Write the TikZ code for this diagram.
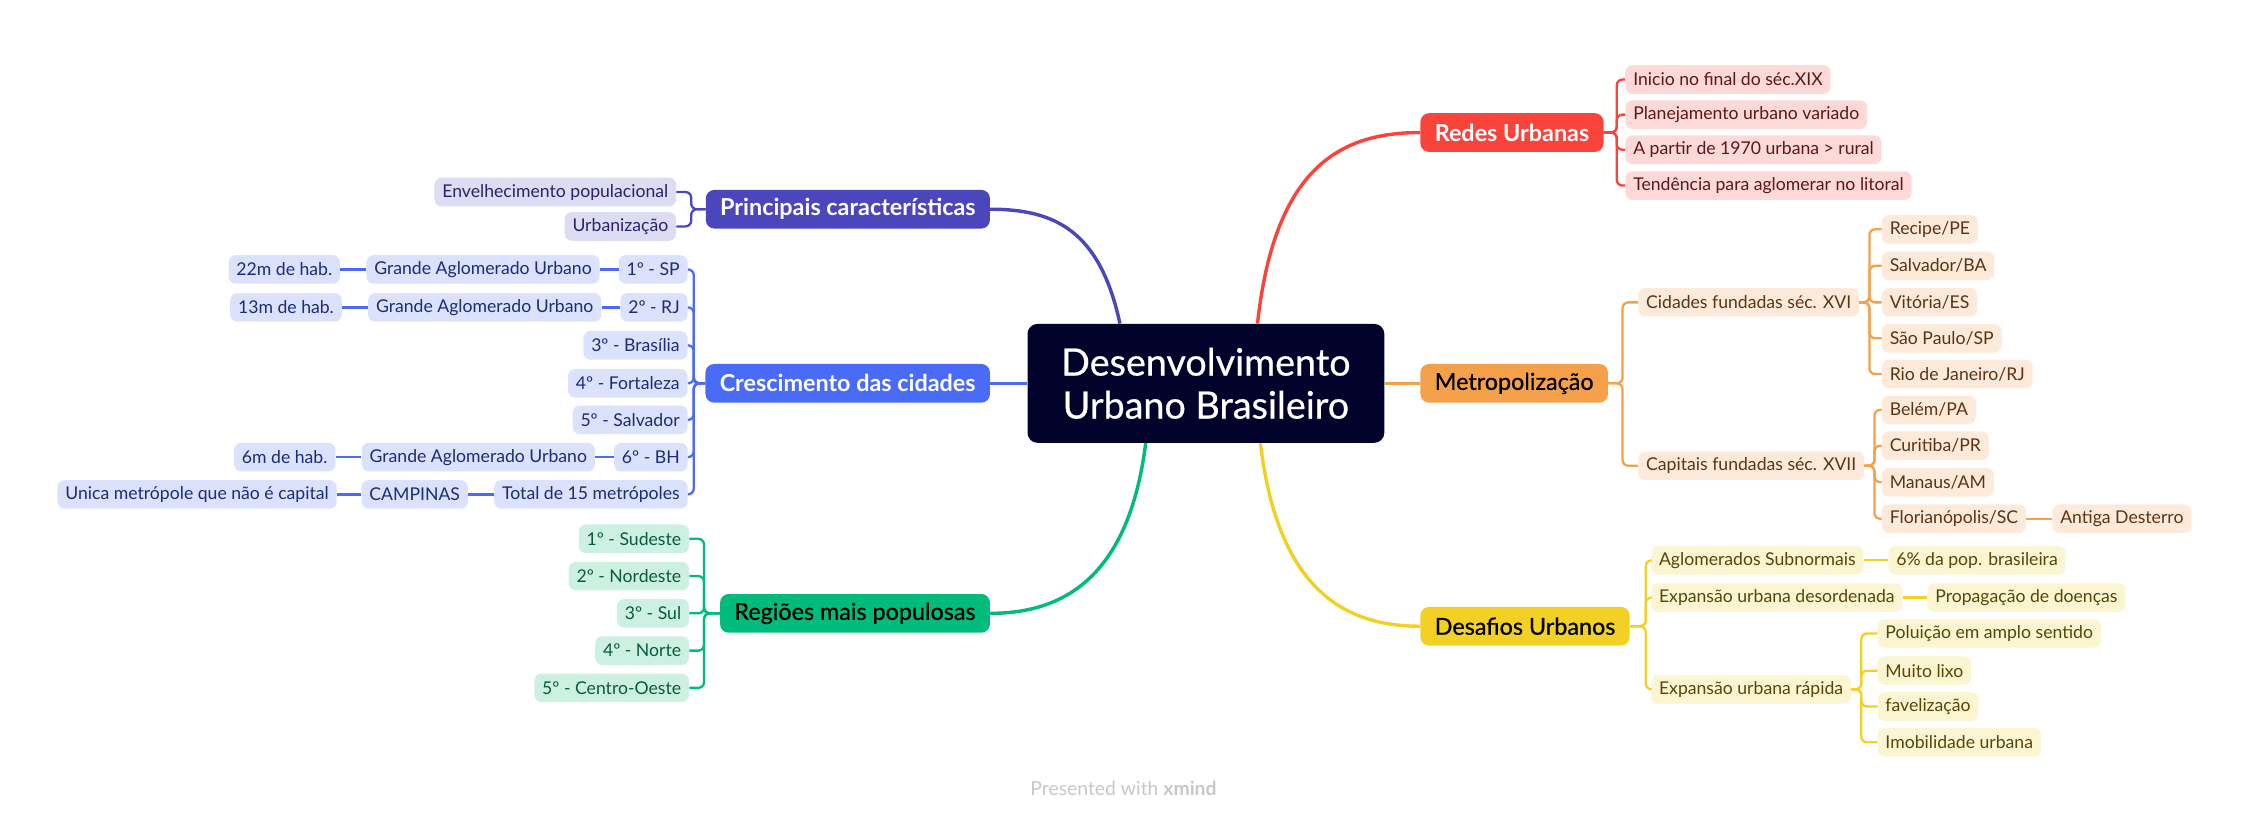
\documentclass[tikz,border=0pt]{standalone}
\usepackage{fontspec}
\setmainfont{Lato}
\newfontfamily\heavyfont{Lato}[FakeBold=0.6]
\usetikzlibrary{calc, positioning}

\definecolor{rootc}{HTML}{02032B}
\definecolor{redc}{HTML}{F8443B}
\definecolor{redl}{HTML}{FDD9D7}
\definecolor{redt}{HTML}{5E1714}
\definecolor{orac}{HTML}{F5A04A}
\definecolor{oral}{HTML}{FDEADA}
\definecolor{orat}{HTML}{5C3413}
\definecolor{yelc}{HTML}{F2D124}
\definecolor{yell}{HTML}{FCF5D2}
\definecolor{yelt}{HTML}{564707}
\definecolor{indc}{HTML}{4C46BD}
\definecolor{indl}{HTML}{DDDCF2}
\definecolor{indt}{HTML}{27246B}
\definecolor{bluc}{HTML}{4A6BF6}
\definecolor{blul}{HTML}{DBE2FD}
\definecolor{blut}{HTML}{1B2C78}
\definecolor{grec}{HTML}{00BB7B}
\definecolor{grel}{HTML}{CCF1E3}
\definecolor{gret}{HTML}{075C3C}

\tikzset{
  root/.style={fill=rootc, text=white, rounded corners=7pt, align=center,
    minimum width=249pt, minimum height=83pt,
    font=\fontsize{26.3}{30}\selectfont\heavyfont},
  topic/.style={rounded corners=6pt, minimum height=27pt, inner xsep=10pt,
    inner ysep=2pt, font=\fontsize{16.3}{19}\selectfont\heavyfont},
  topicw/.style={topic, text=white, font=\fontsize{16.3}{19}\selectfont\bfseries},
  sub/.style={rounded corners=5pt, minimum height=20pt, inner xsep=5.5pt,
    inner ysep=1pt, font=\fontsize{12.3}{14}\selectfont},
  redsub/.style={sub, fill=redl, text=redt},
  orasub/.style={sub, fill=oral, text=orat},
  yelsub/.style={sub, fill=yell, text=yelt},
  indsub/.style={sub, fill=indl, text=indt},
  blusub/.style={sub, fill=blul, text=blut},
  gresub/.style={sub, fill=grel, text=gret},
  link/.style={line width=1.6pt, rounded corners=4pt},
  trunk/.style={line width=2.4pt},
}

\begin{document}
\begin{tikzpicture}[x=1pt, y=-1pt]
    \useasboundingbox (0,0) rectangle (1568,573);

    \node[root] (root) at (841.5,267.5) {Desenvolvimento\\Urbano Brasileiro};

    % main topics
    \node[topicw, fill=redc, anchor=west] (redes) at (991,92.5) {Redes Urbanas};
    \node[topic, fill=orac, anchor=west] (metro) at (991,267.5) {Metropolização};
    \node[topic, fill=yelc, anchor=west] (desaf) at (991,437) {Desafios Urbanos};
    \node[topicw, fill=indc, anchor=east] (princ) at (691,146) {Principais características};
    \node[topicw, fill=bluc, anchor=east] (cresc) at (691,267.5) {Crescimento das cidades};
    \node[topic, fill=grec, anchor=east] (regio) at (691,428) {Regiões mais populosas};

    \draw[trunk, redc] ([xshift=36pt]root.north) .. controls +(12,-110) and +(-55,0) .. (redes.west);
    \draw[trunk, orac] (root.east) -- (metro.west);
    \draw[trunk, yelc] ([xshift=38pt]root.south) .. controls +(12,100) and +(-55,0) .. (desaf.west);
    \draw[trunk, indc] ([xshift=-60pt]root.north) .. controls +(-14,-65) and +(45,0) .. (princ.east);
    \draw[trunk, bluc] (root.west) -- (cresc.east);
    \draw[trunk, grec] ([xshift=-42pt]root.south) .. controls +(-12,95) and +(50,0) .. (regio.east);

    % Redes Urbanas
    \node[redsub, anchor=west] (r1) at (1134,55.5) {Inicio no final do séc.XIX};
    \node[redsub, anchor=west] (r2) at (1134,80) {Planejamento urbano variado};
    \node[redsub, anchor=west] (r3) at (1134,104.5) {A partir de 1970 urbana > rural};
    \node[redsub, anchor=west] (r4) at (1134,129.5) {Tendência para aglomerar no litoral};
    \foreach \c in {r1,r2,r3,r4}
        \draw[link, redc] (redes.east) -- ++(9,0) |- (\c.west);

    % Metropolizacao
    \node[orasub, anchor=west] (cid) at (1143,211) {Cidades fundadas séc. XVI};
    \node[orasub, anchor=west] (cap) at (1143,325) {Capitais fundadas séc. XVII};
    \foreach \c in {cid,cap}
        \draw[link, orac] (metro.east) -- ++(10,0) |- (\c.west);

    \node[orasub, anchor=west] (c1) at (1313,160) {Recipe/PE};
    \node[orasub, anchor=west] (c2) at (1313,185.5) {Salvador/BA};
    \node[orasub, anchor=west] (c3) at (1313,211) {Vitória/ES};
    \node[orasub, anchor=west] (c4) at (1313,236) {São Paulo/SP};
    \node[orasub, anchor=west] (c5) at (1313,261) {Rio de Janeiro/RJ};
    \foreach \c in {c1,c2,c3,c4,c5}
        \draw[link, orac] (cid.east) -- ++(7,0) |- (\c.west);

    \node[orasub, anchor=west] (k1) at (1313,286) {Belém/PA};
    \node[orasub, anchor=west] (k2) at (1313,311) {Curitiba/PR};
    \node[orasub, anchor=west] (k3) at (1313,336.5) {Manaus/AM};
    \node[orasub, anchor=west] (k4) at (1313,362) {Florianópolis/SC};
    \foreach \c in {k1,k2,k3,k4}
        \draw[link, orac] (cap.east) -- ++(7,0) |- (\c.west);
    \node[orasub, right=18pt of k4] (dest) {Antiga Desterro};
    \draw[link, orac] (k4) -- (dest);

    % Desafios Urbanos
    \node[yelsub, anchor=west] (d1) at (1152,391) {Aglomerados Subnormais};
    \node[yelsub, anchor=west] (d2) at (1152,417) {Expansão urbana desordenada};
    \node[yelsub, anchor=west] (d3) at (1152,481) {Expansão urbana rápida};
    \foreach \c in {d1,d2,d3}
        \draw[link, yelc] (desaf.east) -- ++(11,0) |- (\c.west);
    \node[yelsub, right=17pt of d1] (pop) {6\% da pop. brasileira};
    \draw[link, yelc] (d1) -- (pop);
    \node[yelsub, right=17pt of d2] (doen) {Propagação de doenças};
    \draw[link, yelc] (d2) -- (doen);

    \node[yelsub, anchor=west] (e1) at (1310,442) {Poluição em amplo sentido};
    \node[yelsub, anchor=west] (e2) at (1310,468) {Muito lixo};
    \node[yelsub, anchor=west] (e3) at (1310,493) {favelização};
    \node[yelsub, anchor=west] (e4) at (1310,518) {Imobilidade urbana};
    \foreach \c in {e1,e2,e3,e4}
        \draw[link, yelc] (d3.east) -- ++(7,0) |- (\c.west);

    % Principais caracteristicas
    \node[indsub, anchor=east] (p1) at (472,134) {Envelhecimento populacional};
    \node[indsub, anchor=east] (p2) at (472,158) {Urbanização};
    \foreach \c in {p1,p2}
        \draw[link, indc] (princ.west) -- ++(-10,0) |- (\c.east);

    % Crescimento das cidades
    \node[blusub, anchor=east] (m1) at (480,188) {1º - SP};
    \node[blusub, anchor=east] (m2) at (480,214.5) {2º - RJ};
    \node[blusub, anchor=east] (m3) at (480,241) {3º - Brasília};
    \node[blusub, anchor=east] (m4) at (480,267.5) {4º - Fortaleza};
    \node[blusub, anchor=east] (m5) at (480,293) {5º - Salvador};
    \node[blusub, anchor=east] (m6) at (480,319) {6º - BH};
    \node[blusub, anchor=east] (m7) at (480,345) {Total de 15 metrópoles};
    \foreach \c in {m1,m2,m3,m4,m5,m6,m7}
        \draw[link, bluc] (cresc.west) -- ++(-8,0) |- (\c.east);

    \node[blusub, left=13pt of m1] (g1) {Grande Aglomerado Urbano};
    \node[blusub, left=18pt of g1] (h1) {22m de hab.};
    \node[blusub, left=13pt of m2] (g2) {Grande Aglomerado Urbano};
    \node[blusub, left=18pt of g2] (h2) {13m de hab.};
    \node[blusub, left=13pt of m6] (g6) {Grande Aglomerado Urbano};
    \node[blusub, left=18pt of g6] (h6) {6m de hab.};
    \node[blusub, left=18pt of m7] (camp) {CAMPINAS};
    \node[blusub, left=17pt of camp] (unic) {Unica metrópole que não é capital};
    \draw[link, bluc] (m1) -- (g1) -- (h1);
    \draw[link, bluc] (m2) -- (g2) -- (h2);
    \draw[link, bluc] (m6) -- (g6) -- (h6);
    \draw[link, bluc] (m7) -- (camp) -- (unic);

    % Regioes mais populosas
    \node[gresub, anchor=east] (n1) at (481,376) {1º - Sudeste};
    \node[gresub, anchor=east] (n2) at (481,402) {2º - Nordeste};
    \node[gresub, anchor=east] (n3) at (481,428) {3º - Sul};
    \node[gresub, anchor=east] (n4) at (481,454) {4º - Norte};
    \node[gresub, anchor=east] (n5) at (481,480) {5º - Centro-Oeste};
    \foreach \c in {n1,n2,n3,n4,n5}
        \draw[link, grec] (regio.west) -- ++(-11,0) |- (\c.east);

    \node[text=black!22, font=\fontsize{13.5}{16}\selectfont] (credit) at (784,550)
        {Presented with \textbf{xmind}};
\end{tikzpicture}
\end{document}
